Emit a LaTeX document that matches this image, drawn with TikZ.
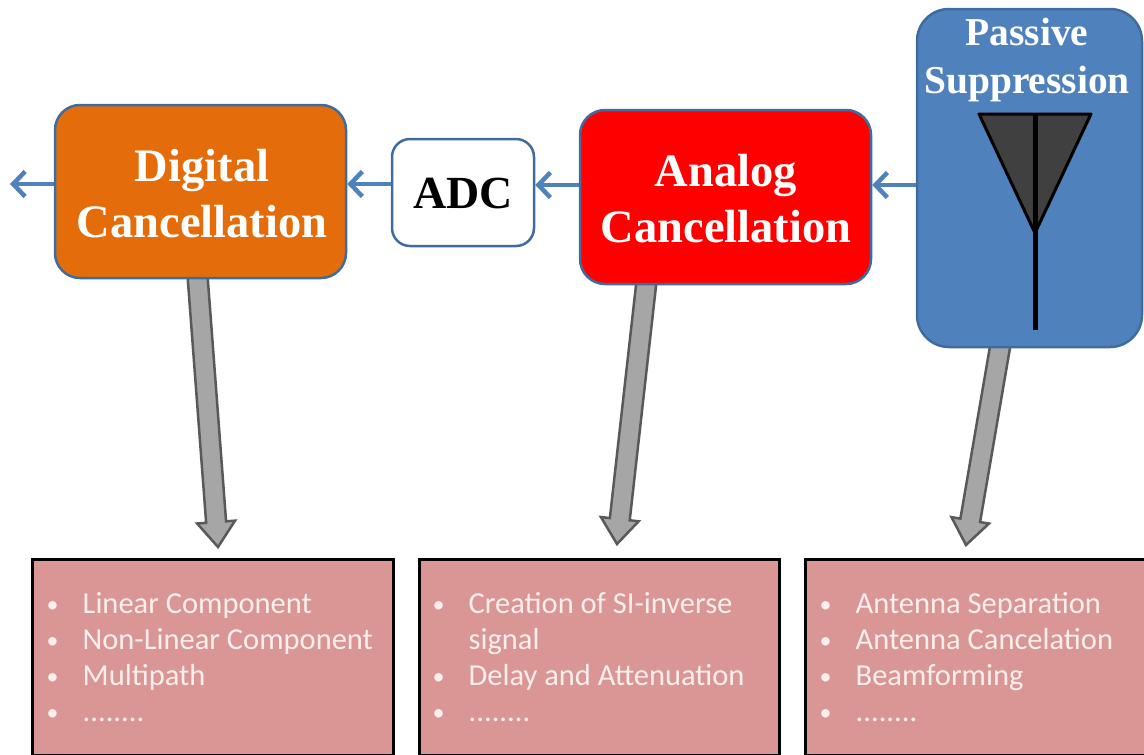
\documentclass[tikz,border=0pt]{standalone}
\usepackage{fontspec}
\setmainfont{Liberation Serif}
\newfontfamily\listfont{Carlito}
\usetikzlibrary{arrows.meta,positioning,calc,backgrounds}
\definecolor{boxblue}{HTML}{4F81BD}
\definecolor{boxedge}{HTML}{3F6C9F}
\definecolor{boxorange}{HTML}{E46C0A}
\definecolor{listred}{HTML}{D99694}
\definecolor{listtxt}{HTML}{FBEEEE}
\definecolor{arrowgray}{HTML}{A6A6A6}
\definecolor{arrowedge}{HTML}{595959}
\definecolor{antgray}{HTML}{404040}
\newcommand{\litem}[1]{\makebox[37pt][l]{\hspace*{1pt}\raisebox{1.5pt}{\fontsize{24}{36}\selectfont\textbullet}}#1}
\newcommand{\lcont}[1]{\hspace*{37pt}#1}
\tikzset{
   stage/.style={draw=boxedge, line width=2.5pt, rounded corners=25pt, inner sep=0pt},
   stagetxt/.style={text=white, align=center, inner sep=0pt, font=\bfseries\fontsize{46.5}{56}\selectfont},
   listbox/.style={draw=black, line width=3pt, fill=listred, inner sep=0pt, minimum height=196pt},
   listtxt/.style={text=listtxt, align=left, inner sep=0pt, font=\listfont\fontsize{30.5}{36}\selectfont},
   flow/.style={draw=boxblue, line width=4.5pt, -{Straight Barb[length=12pt,width=25pt,line width=4.5pt]}},
   bigarrow/.style={draw=arrowedge, line width=2.5pt, fill=arrowgray, line join=miter,
      to path={
         let \p1=($(\tikztotarget)!25pt!(\tikztostart)$) in
         ($(\tikztostart)!10pt!90:(\tikztotarget)$) --
         ($(\p1)!10pt!-90:(\tikztostart)$) --
         ($(\p1)!19pt!-90:(\tikztostart)$) --
         (\tikztotarget) --
         ($(\p1)!19pt!90:(\tikztostart)$) --
         ($(\p1)!10pt!90:(\tikztostart)$) --
         ($(\tikztostart)!10pt!-90:(\tikztotarget)$) -- cycle}},
}
\begin{document}
\begin{tikzpicture}[x=1pt,y=-1pt]
\useasboundingbox (0,0) rectangle (1144,755);

% boxes
\node[stage, fill=boxorange, minimum width=291pt, minimum height=173pt] (digital) at (200.5,191.5) {};
\node[stagetxt] (digitaltxt) at (202,194) {Digital\\Cancellation};
\node[stage, rounded corners=18pt, fill=white, minimum width=142pt, minimum height=107pt] (adc) at (463,192.5) {};
\node[stagetxt, text=black, font=\bfseries\fontsize{46}{54}\selectfont] (adctxt) at (463,193) {ADC};
\node[stage, fill=red, minimum width=291pt, minimum height=174pt] (analog) at (725.5,197) {};
\node[stagetxt] (analogtxt) at (726,199) {Analog\\Cancellation};
\node[stage, rounded corners=32pt, fill=boxblue, minimum width=225pt, minimum height=338pt] (passive) at (1029.5,178) {};
\node[stagetxt, font=\bfseries\fontsize{39.5}{48}\selectfont] (passivetxt) at (1027,60) {Passive\\Suppression};

% antenna
\draw[fill=antgray, draw=black, line width=3pt, line join=round] (979,114) -- (1091,114) -- (1035,233) -- cycle;
\draw[line width=5pt] (1035,113) -- (1035,330);

% lists
\node[listbox, minimum width=361pt] (digitallist) at (212.5,657.5) {};
\node[listbox, minimum width=360pt] (analoglist) at (599,657.5) {};
\node[listbox, minimum width=360pt] (passivelist) at (985,657.5) {};
\node[listtxt, below right=34.5pt and 15pt of digitallist.north west] (digitalitems)
   {\litem{Linear Component}\\\litem{Non-Linear Component}\\\litem{Multipath}\\\litem{........}};
\node[listtxt, below right=34.5pt and 14pt of analoglist.north west] (analogitems)
   {\litem{Creation of SI-inverse}\\\lcont{signal}\\\litem{Delay and Attenuation}\\\litem{........}};
\node[listtxt, below right=34.5pt and 15pt of passivelist.north west] (passiveitems)
   {\litem{Antenna Separation}\\\litem{Antenna Cancelation}\\\litem{Beamforming}\\\litem{........}};

% flow arrows
\coordinate (out) at (10,184);
\draw[flow] (digital.west |- 0,184) -- (out);
\draw[flow] (adc.west |- 0,184) -- (digital.east |- 0,184);
\draw[flow] (analog.west |- 0,185) -- (adc.east |- 0,185);
\draw[flow] (passive.west |- 0,185) -- (analog.east |- 0,185);

% gray arrows
\coordinate (digitaltip) at (218,547);
\coordinate (analogtip) at (617,544);
\coordinate (passivetip) at (966,545);
\begin{scope}[on background layer]
\draw[bigarrow] ($(digital.south)+(-3,-4)$) to (digitaltip);
\draw[bigarrow] ($(analog.south)+(-79,-4)$) to (analogtip);
\draw[bigarrow] ($(passive.south)+(-29,-4)$) to (passivetip);
\end{scope}
\end{tikzpicture}
\end{document}
